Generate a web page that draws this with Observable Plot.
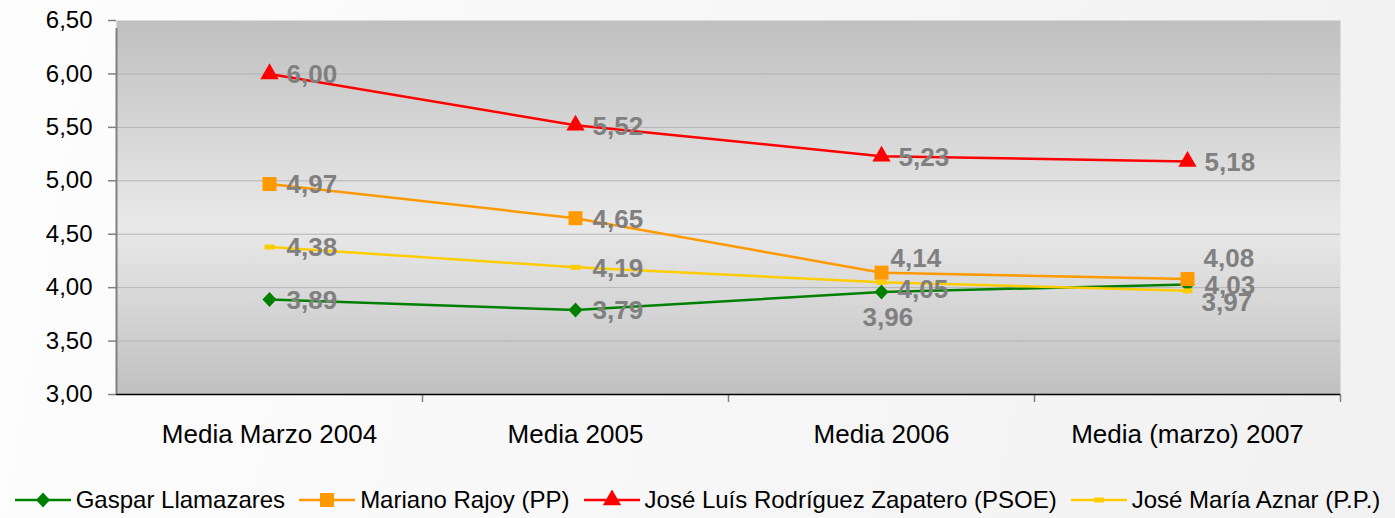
<!DOCTYPE html>
<html>
<head>
<meta charset="utf-8">
<script src="https://cdn.jsdelivr.net/npm/d3@7"></script>
<script src="https://cdn.jsdelivr.net/npm/@observablehq/plot@0.6"></script>
<style>
  html, body { margin: 0; padding: 0; }
  body {
    width: 1395px; height: 518px; overflow: hidden;
    background: linear-gradient(100deg, #fdfdfd 0%, #f7f7f7 50%, #f1f1f1 100%);
    font-family: Arial, "Liberation Sans", sans-serif;
  }
  #chart svg { display: block; background: transparent; }
  #legend {
    display: flex; justify-content: center; align-items: center;
    height: 58px; box-sizing: border-box; padding-top: 22px;
    font-size: 24px; color: #000; white-space: nowrap;
  }
  .item { display: flex; align-items: center; margin: 0 7px; }
  .item svg { margin-right: 5px; }
</style>
</head>
<body>
<div id="chart"></div>
<div id="legend"></div>
<script>
// ---- data ----
const categories = ["Media Marzo 2004", "Media 2005", "Media 2006", "Media (marzo) 2007"];
const seriesNames = ["Gaspar Llamazares", "Mariano Rajoy (PP)", "José Luís Rodríguez Zapatero (PSOE)", "José María Aznar (P.P.)"];
const gaspar   = [3.89, 3.79, 3.96, 4.03];
const rajoy    = [4.97, 4.65, 4.14, 4.08];
const zapatero = [6.00, 5.52, 5.23, 5.18];
const aznar    = [4.38, 4.19, 4.05, 3.97];
const yTicks = [3.0, 3.5, 4.0, 4.5, 5.0, 5.5, 6.0, 6.5];

// ---- styling ----
const colors = ["#008000", "#ff9900", "#ff0000", "#ffcc00"];
const dashSymbol = { draw(ctx) { ctx.moveTo(-5, -2.5); ctx.lineTo(5, -2.5); ctx.lineTo(5, 2.5); ctx.lineTo(-5, 2.5); ctx.closePath(); } };
const diamondSymbol = { draw(ctx) { ctx.moveTo(0, -7.5); ctx.lineTo(7, 0); ctx.lineTo(0, 7.5); ctx.lineTo(-7, 0); ctx.closePath(); } };
const symbols = [diamondSymbol, "square", "triangle", dashSymbol];
const radii = [5, 7.9, 6.8, 3];
const fmt = v => d3.format(".2f")(v).replace(".", ",");

const allValues = [gaspar, rajoy, zapatero, aznar];
const rows = [];
allValues.forEach((vals, s) => vals.forEach((v, i) => rows.push({ s, series: seriesNames[s], i, x: i + 0.5, y: v })));

// label offsets [dx, dy] keyed by "series,index"; default to the right of the point
const labelOffset = {
  "1,2": [9, -14], "1,3": [16, -20],
  "3,2": [16, 7], "3,3": [14, 12],
  "0,2": [-19, 26]
};

const labelMarks = rows.map(r => {
  const [dx, dy] = labelOffset[r.s + "," + r.i] || [17, 1];
  return Plot.text([r], { x: "x", y: "y", text: d => fmt(d.y), dx, dy, textAnchor: "start",
    fill: "#808080", fontWeight: "bold", fontSize: 26 });
});

const chart = Plot.plot({
  width: 1395, height: 460,
  marginLeft: 116, marginRight: 55, marginTop: 20, marginBottom: 66,
  style: { fontFamily: "Arial, 'Liberation Sans', sans-serif", background: "transparent", overflow: "visible" },
  x: { domain: [0, 4], axis: null },
  y: { domain: [3, 6.5], axis: null },
  color: { domain: seriesNames, range: colors },
  marks: [
    Plot.frame({ fill: "url(#bgGrad)", stroke: "none" }),
    Plot.gridY(yTicks.slice(1, -1), { stroke: "#b4b4b4", strokeOpacity: 1, strokeWidth: 1 }),
    Plot.axisY({ ticks: yTicks, tickFormat: fmt, tickSize: 8, tickPadding: 16, fontSize: 24, label: null,
      stroke: "#808080", fill: "#000", strokeWidth: 1.5 }),
    Plot.axisX({ ticks: [1, 2, 3, 4], tickSize: 8, tickFormat: () => "", label: null, stroke: "#808080", strokeWidth: 1.5 }),
    Plot.axisX({ ticks: categories.map((c, i) => i + 0.5), tickFormat: d => categories[Math.floor(d)], label: null,
      tickSize: 0, tickPadding: 30, fontSize: 26, fill: "#000" }),
    Plot.ruleY([3], { stroke: "#000", strokeWidth: 1.5 }),
    Plot.ruleX([0], { y1: 3, y2: 6.5, stroke: "#808080", strokeWidth: 2, insetBottom: -8 }),
    Plot.line(rows, { x: "x", y: "y", z: "series", stroke: "series", strokeWidth: 2.5 }),
    ...seriesNames.map((name, s) => Plot.dot(rows.filter(r => r.s === s), {
      x: "x", y: "y", symbol: () => symbols[s], r: radii[s], fill: colors[s], stroke: "none"
    })),
    ...labelMarks
  ]
});

// gradient definition for plot background
const defs = d3.select(chart).insert("defs", ":first-child");
const grad = defs.append("linearGradient").attr("id", "bgGrad").attr("x1", 0).attr("y1", 0).attr("x2", 0).attr("y2", 1);
grad.append("stop").attr("offset", "0%").attr("stop-color", "#c0c0c0");
grad.append("stop").attr("offset", "55%").attr("stop-color", "#e9e9e9");
grad.append("stop").attr("offset", "100%").attr("stop-color", "#c0c0c0");

document.getElementById("chart").appendChild(chart);

// ---- legend ----
const legend = d3.select("#legend");
seriesNames.forEach((name, s) => {
  const item = legend.append("div").attr("class", "item");
  const svg = item.append("svg").attr("width", 56).attr("height", 20);
  svg.append("line").attr("x1", 0).attr("x2", 56).attr("y1", 10).attr("y2", 10)
    .attr("stroke", colors[s]).attr("stroke-width", 2.5);
  const sym = [diamondSymbol, d3.symbolSquare, d3.symbolTriangle, dashSymbol][s];
  const size = Math.PI * radii[s] * radii[s];
  svg.append("path").attr("transform", "translate(28,10)").attr("d", d3.symbol(sym, size)()).attr("fill", colors[s]);
  item.append("span").text(name);
});
</script>
</body>
</html>
